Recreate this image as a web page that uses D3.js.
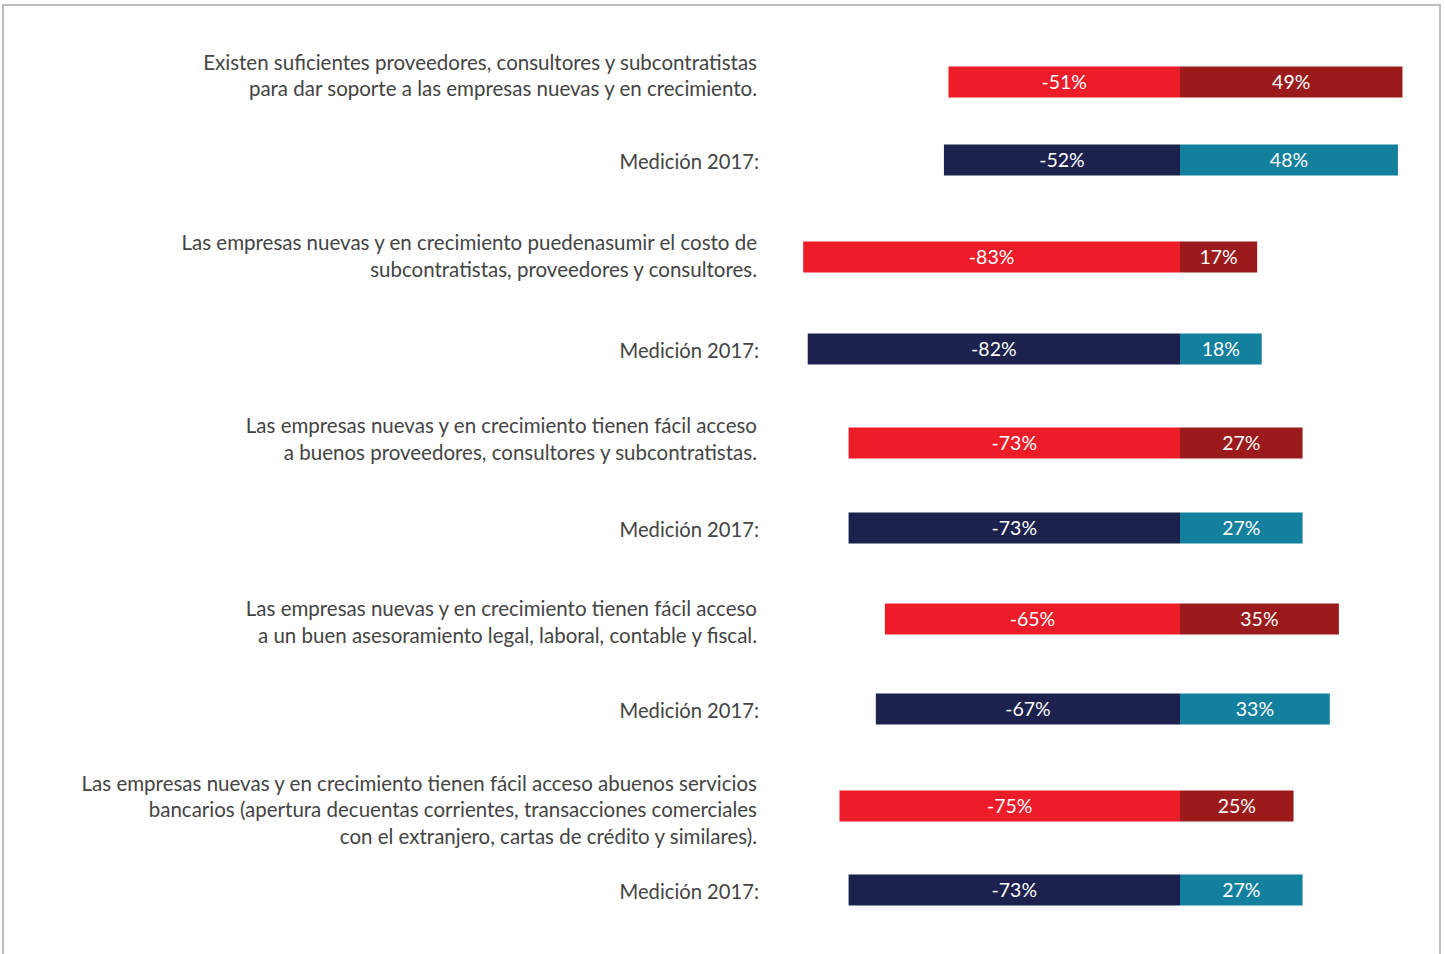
<!DOCTYPE html>
<html>
<head>
<meta charset="utf-8">
<script src="https://cdn.jsdelivr.net/npm/d3@7"></script>
<style>
  html, body { margin: 0; padding: 0; background: #fff; }
  svg { display: block; }
  text { font-family: Lato, "Open Sans", sans-serif; }
</style>
</head>
<body>
<svg id="chart" width="1445" height="954"></svg>
<script>
// Survey statements (each entry is a list of wrapped lines)
const statements = [
  ["Existen suficientes proveedores, consultores y subcontratistas",
   "para dar soporte a las empresas nuevas y en crecimiento."],
  ["Las empresas nuevas y en crecimiento puedenasumir el costo de",
   "subcontratistas, proveedores y consultores."],
  ["Las empresas nuevas y en crecimiento tienen fácil acceso",
   "a buenos proveedores, consultores y subcontratistas."],
  ["Las empresas nuevas y en crecimiento tienen fácil acceso",
   "a un buen asesoramiento legal, laboral, contable y fiscal."],
  ["Las empresas nuevas y en crecimiento tienen fácil acceso abuenos servicios",
   "bancarios (apertura decuentas corrientes, transacciones comerciales",
   "con el extranjero, cartas de crédito y similares)."]
];
const previousLabel = "Medición 2017:";

// Share of answers (%) — disagree shown to the left, agree to the right
const currentDisagree = [51, 83, 73, 65, 75];
const currentAgree    = [49, 17, 27, 35, 25];
const prevDisagree    = [52, 82, 73, 67, 73];
const prevAgree       = [48, 18, 27, 33, 27];

// Row layout (vertical centres of the bar rows and the statement blocks)
const rowCentres   = [82, 160, 257, 349, 443, 528, 619, 709, 806, 890];
const statementMid = [75.5, 256, 439, 622, 810];

const colors = {
  currentNeg: "#ED1C29", currentPos: "#9B1A1B",
  prevNeg: "#1C214D",    prevPos: "#13809E"
};

const svg = d3.select("#chart");

// outer frame
svg.append("path")
  .attr("d", "M3,960 V5 H1440 V960")
  .attr("fill", "none")
  .attr("stroke", "#BDBDBD")
  .attr("stroke-width", 2);

// build row records
const rows = [];
statements.forEach((s, i) => {
  rows.push({ id: "c" + i, group: i, kind: "current", neg: currentDisagree[i], pos: currentAgree[i] });
  rows.push({ id: "p" + i, group: i, kind: "prev", neg: prevDisagree[i], pos: prevAgree[i] });
});

const y = d3.scaleOrdinal().domain(rows.map(d => d.id)).range(rowCentres);
const x = d3.scaleLinear().domain([-100, 100]).range([726, 1634]);
const barH = 31;

const g = svg.append("g");

const row = g.selectAll("g.row").data(rows).join("g").attr("class", "row");

// negative segment
row.append("rect")
  .attr("x", d => x(-d.neg))
  .attr("y", d => y(d.id) - barH / 2)
  .attr("width", d => x(0) - x(-d.neg))
  .attr("height", barH)
  .attr("fill", d => d.kind === "current" ? colors.currentNeg : colors.prevNeg);

// positive segment
row.append("rect")
  .attr("x", x(0))
  .attr("y", d => y(d.id) - barH / 2)
  .attr("width", d => x(d.pos) - x(0))
  .attr("height", barH)
  .attr("fill", d => d.kind === "current" ? colors.currentPos : colors.prevPos);

// value labels
row.append("text")
  .attr("x", d => (x(-d.neg) + x(0)) / 2)
  .attr("y", d => y(d.id))
  .attr("dy", "0.36em")
  .attr("text-anchor", "middle")
  .attr("fill", "#fff")
  .attr("font-size", 19.5)
  .text(d => "-" + d.neg + "%");

row.append("text")
  .attr("x", d => (x(d.pos) + x(0)) / 2)
  .attr("y", d => y(d.id))
  .attr("dy", "0.36em")
  .attr("text-anchor", "middle")
  .attr("fill", "#fff")
  .attr("font-size", 19.5)
  .text(d => d.pos + "%");

// statement labels
const lineH = 26.5;
g.selectAll("text.stmt").data(statements).join("text")
  .attr("class", "stmt")
  .attr("text-anchor", "end")
  .attr("fill", "#444444")
  .attr("font-size", 20.5)
  .each(function (lines, i) {
    const top = statementMid[i] - (lines.length - 1) * lineH / 2;
    d3.select(this).selectAll("tspan").data(lines).join("tspan")
      .attr("x", 757)
      .attr("y", (l, j) => top + j * lineH)
      .attr("dy", "0.36em")
      .text(l => l);
  });

// previous-year labels
g.selectAll("text.prev").data(rows.filter(d => d.kind === "prev")).join("text")
  .attr("class", "prev")
  .attr("x", 759)
  .attr("y", d => y(d.id) + 2)
  .attr("dy", "0.36em")
  .attr("text-anchor", "end")
  .attr("fill", "#444444")
  .attr("font-size", 20.2)
  .text(previousLabel);
</script>
</body>
</html>
